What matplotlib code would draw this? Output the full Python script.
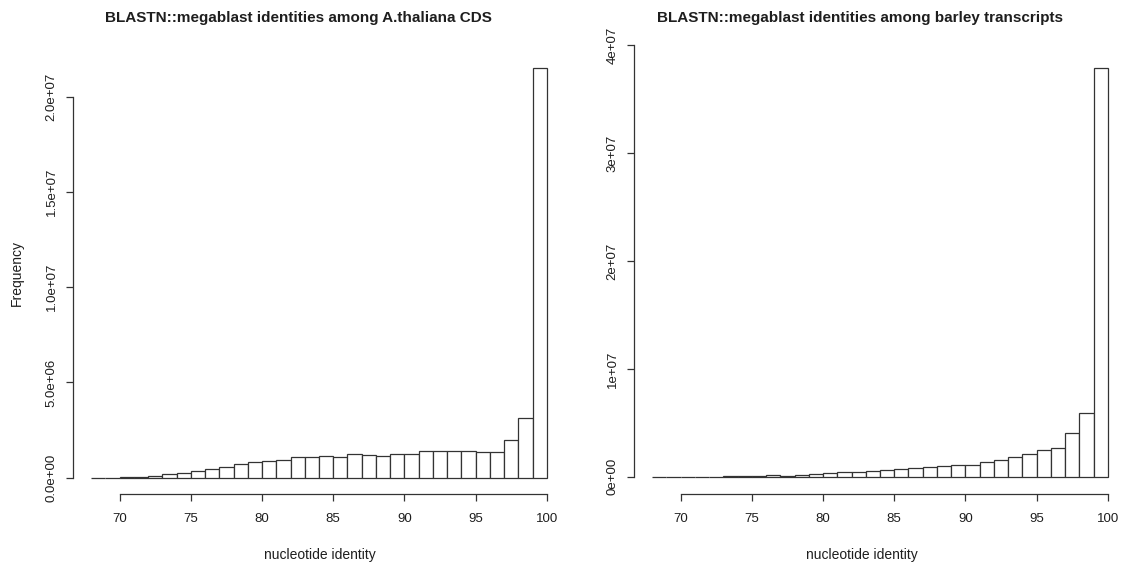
import numpy as np
import matplotlib
matplotlib.use("Agg")
import matplotlib.pyplot as plt

plt.rcParams['font.family'] = ['Liberation Sans', 'DejaVu Sans']

# histogram bin edges (nucleotide identity, 1% bins)
bin_edges = list(range(68, 101))

# counts per bin, in millions
thaliana = [0, 0, 0.01, 0.05, 0.10, 0.20, 0.23, 0.35, 0.46, 0.56, 0.70, 0.81,
            0.86, 0.95, 1.09, 1.09, 1.14, 1.07, 1.23, 1.19, 1.16, 1.26, 1.26,
            1.42, 1.42, 1.42, 1.42, 1.37, 1.37, 1.96, 3.12, 21.5]
barley = [0, 0, 0, 0, 0.01, 0.03, 0.03, 0.09, 0.12, 0.08, 0.19, 0.28,
          0.34, 0.40, 0.43, 0.56, 0.62, 0.71, 0.80, 0.86, 0.99, 1.08, 1.08,
          1.39, 1.51, 1.79, 2.10, 2.44, 2.69, 4.08, 5.87, 37.9]

x_ticks = [70, 75, 80, 85, 90, 95, 100]
left_yticks = [0, 5e6, 1e7, 1.5e7, 2e7]
left_ylabels = ['0.0e+00', '5.0e+06', '1.0e+07', '1.5e+07', '2.0e+07']
right_yticks = [0, 1e7, 2e7, 3e7, 4e7]
right_ylabels = ['0e+00', '1e+07', '2e+07', '3e+07', '4e+07']

titles = ['BLASTN::megablast identities among A.thaliana CDS',
          'BLASTN::megablast identities among barley transcripts']

W, H = 1122, 562
fig = plt.figure(figsize=(W / 100, H / 100), dpi=100)

ax1 = fig.add_axes([73 / W, 1 - 494 / H, 492 / W, 442 / H])
ax2 = fig.add_axes([634 / W, 1 - 494 / H, 492 / W, 450 / H])

txt = '#1e1e1e'
edge = '#333333'


def draw(ax, counts, yticks, ylabels, ylim):
    lefts = np.array(bin_edges[:-1])
    vals = np.array(counts) * 1e6
    ax.bar(lefts, vals, width=1, align='edge', color='white',
           edgecolor=edge, linewidth=0.9)
    # R-like usr range (4% padding)
    span = bin_edges[-1] - bin_edges[0]
    ax.set_xlim(bin_edges[0] - 0.04 * span, bin_edges[-1] + 0.04 * span)
    ax.set_ylim(*ylim)
    for s in ['top', 'right']:
        ax.spines[s].set_visible(False)
    ax.spines['bottom'].set_bounds(x_ticks[0], x_ticks[-1])
    ax.spines['left'].set_bounds(yticks[0], yticks[-1])
    for s in ['bottom', 'left']:
        ax.spines[s].set_color(edge)
        ax.spines[s].set_linewidth(0.9)
    ax.set_xticks(x_ticks)
    ax.set_xticklabels([str(t) for t in x_ticks])
    ax.set_yticks(yticks)
    ax.set_yticklabels(ylabels, rotation=90, va='center')
    ax.tick_params(axis='x', direction='out', length=5, width=0.9,
                   color=edge, labelsize=9.5, labelcolor=txt, pad=9)
    ax.tick_params(axis='y', direction='out', length=5, width=0.9,
                   color=edge, labelsize=9.5, labelcolor=txt, pad=6)
    ax.patch.set_visible(False)


draw(ax1, thaliana, left_yticks, left_ylabels, (-0.86e6, 22.36e6))
draw(ax2, barley, right_yticks, right_ylabels, (-1.6e6, 40.1e6))

fig.text(298 / W, 1 - 18 / H, titles[0], ha='center', va='center',
         fontsize=11, fontweight='bold', color=txt)
fig.text(860 / W, 1 - 18 / H, titles[1], ha='center', va='center',
         fontsize=11, fontweight='bold', color=txt)
fig.text(320 / W, 1 - 555 / H, 'nucleotide identity', ha='center',
         va='center', fontsize=10, color=txt)
fig.text(862 / W, 1 - 555 / H, 'nucleotide identity', ha='center',
         va='center', fontsize=10, color=txt)
fig.text(17 / W, 1 - 273 / H, 'Frequency', ha='center', va='center',
         rotation=90, fontsize=10, color=txt)

fig.savefig('out.png', dpi=100, facecolor='white')
